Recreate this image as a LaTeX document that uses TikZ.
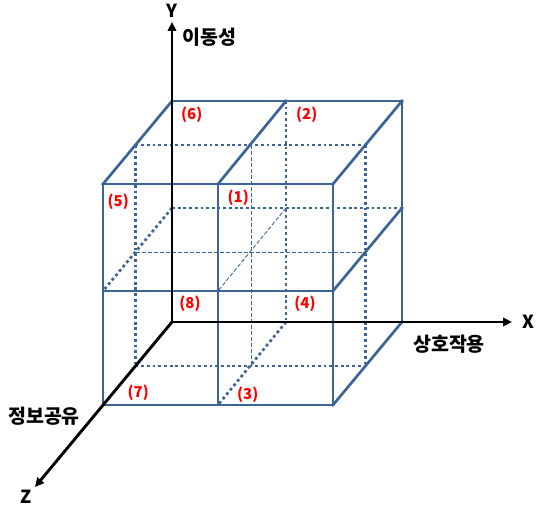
\documentclass[tikz,border=0pt]{standalone}
\usepackage{fontspec}
\setmainfont{Noto Sans CJK KR}
\usetikzlibrary{arrows.meta}
\definecolor{cubeblue}{RGB}{60,100,150}
\definecolor{lblred}{RGB}{255,0,0}
\tikzset{
  edge/.style={draw=cubeblue,line width=2.7pt,line cap=rect},
  hidden/.style={draw=cubeblue,line width=2.7pt,dash pattern=on 2.8pt off 2.9pt},
  inner/.style={draw=cubeblue,line width=0.9pt,dash pattern=on 4pt off 2pt},
  axis/.style={draw=black,line width=2.9pt,-{Triangle[length=9pt,width=8.5pt]}},
  axislbl/.style={font=\fontsize{18}{20}\selectfont\bfseries,inner sep=0pt},
  krlbl/.style={font=\fontsize{19.5}{22}\selectfont\bfseries,inner sep=0pt},
  num/.style={text=lblred,font=\fontsize{15}{17}\selectfont\bfseries,inner sep=0pt}
}
\begin{document}
\begin{tikzpicture}[x=1pt,y=-1pt]
\useasboundingbox (0,0) rectangle (536,508);
% back plane
\coordinate (B00) at (172,101); \coordinate (B10) at (286,101); \coordinate (B20) at (402,101);
\coordinate (B01) at (172,208); \coordinate (B11) at (286,208); \coordinate (B21) at (402,208);
\coordinate (B02) at (172,322); \coordinate (B12) at (286,322); \coordinate (B22) at (402,322);
% middle plane
\coordinate (M00) at (135.5,145); \coordinate (M10) at (251.5,145); \coordinate (M20) at (365.5,145);
\coordinate (M01) at (135.5,252); \coordinate (M11) at (251.5,252); \coordinate (M21) at (365.5,252);
\coordinate (M02) at (135.5,366); \coordinate (M12) at (251.5,366); \coordinate (M22) at (365.5,366);
% front plane
\coordinate (F00) at (103,184); \coordinate (F10) at (218,184); \coordinate (F20) at (333,184);
\coordinate (F01) at (103,291); \coordinate (F11) at (218,291); \coordinate (F21) at (333,291);
\coordinate (F02) at (103,405); \coordinate (F12) at (218,405); \coordinate (F22) at (333,405);
% axis ends
\coordinate (O) at (172,322);
\coordinate (Ytip) at (172,22);
\coordinate (Xtip) at (512,322);
\coordinate (Ztip) at (35,487);

% thin inner lines
\draw[inner] (M10) -- (M12);
\draw[inner] (M01) -- (M21);
\draw[inner] (B11) -- (F11);
% hidden dotted lines
\draw[hidden] (M00) -- (M20);
\draw[hidden] (M00) -- (M02);
\draw[hidden] (M20) -- (M22);
\draw[hidden] (M02) -- (M22);
\draw[hidden] (B01) -- (B21);
\draw[hidden] (B10) -- (B12);
\draw[hidden] (B01) -- (F01);
\draw[hidden] (B12) -- (F12);
% solid edges
\draw[edge] (F00) -- (F20) -- (F22) -- (F02) -- cycle;
\draw[edge] (F10) -- (F12);
\draw[edge] (F01) -- (F21);
\draw[edge] (B00) -- (B20) -- (B22);
\draw[edge] (B00) -- (F00);
\draw[edge] (B10) -- (F10);
\draw[edge] (B20) -- (F20);
\draw[edge] (B21) -- (F21);
\draw[edge] (B22) -- (F22);
% axes
\draw[axis] (O) -- (Ytip);
\draw[axis] (O) -- (Xtip);
\draw[axis] (O) -- (Ztip);
% axis labels
\node[axislbl] (ly) at (172,11) {Y};
\node[axislbl] (lx) at (528,322) {X};
\node[axislbl] (lz) at (26,497) {Z};
\node[krlbl] (ky) at (209.5,37) {이동성};
\node[krlbl] (kx) at (449,344) {상호작용};
\node[krlbl] (kz) at (44,416) {정보공유};
% cell numbers
\node[num] (n6) at (191.7,115) {(6)};
\node[num] (n2) at (306.7,115) {(2)};
\node[num] (n5) at (118.3,201.5) {(5)};
\node[num] (n1) at (238.3,197.3) {(1)};
\node[num] (n8) at (190,304) {(8)};
\node[num] (n4) at (305,304) {(4)};
\node[num] (n7) at (138.3,392.7) {(7)};
\node[num] (n3) at (247.7,395) {(3)};
\end{tikzpicture}
\end{document}
